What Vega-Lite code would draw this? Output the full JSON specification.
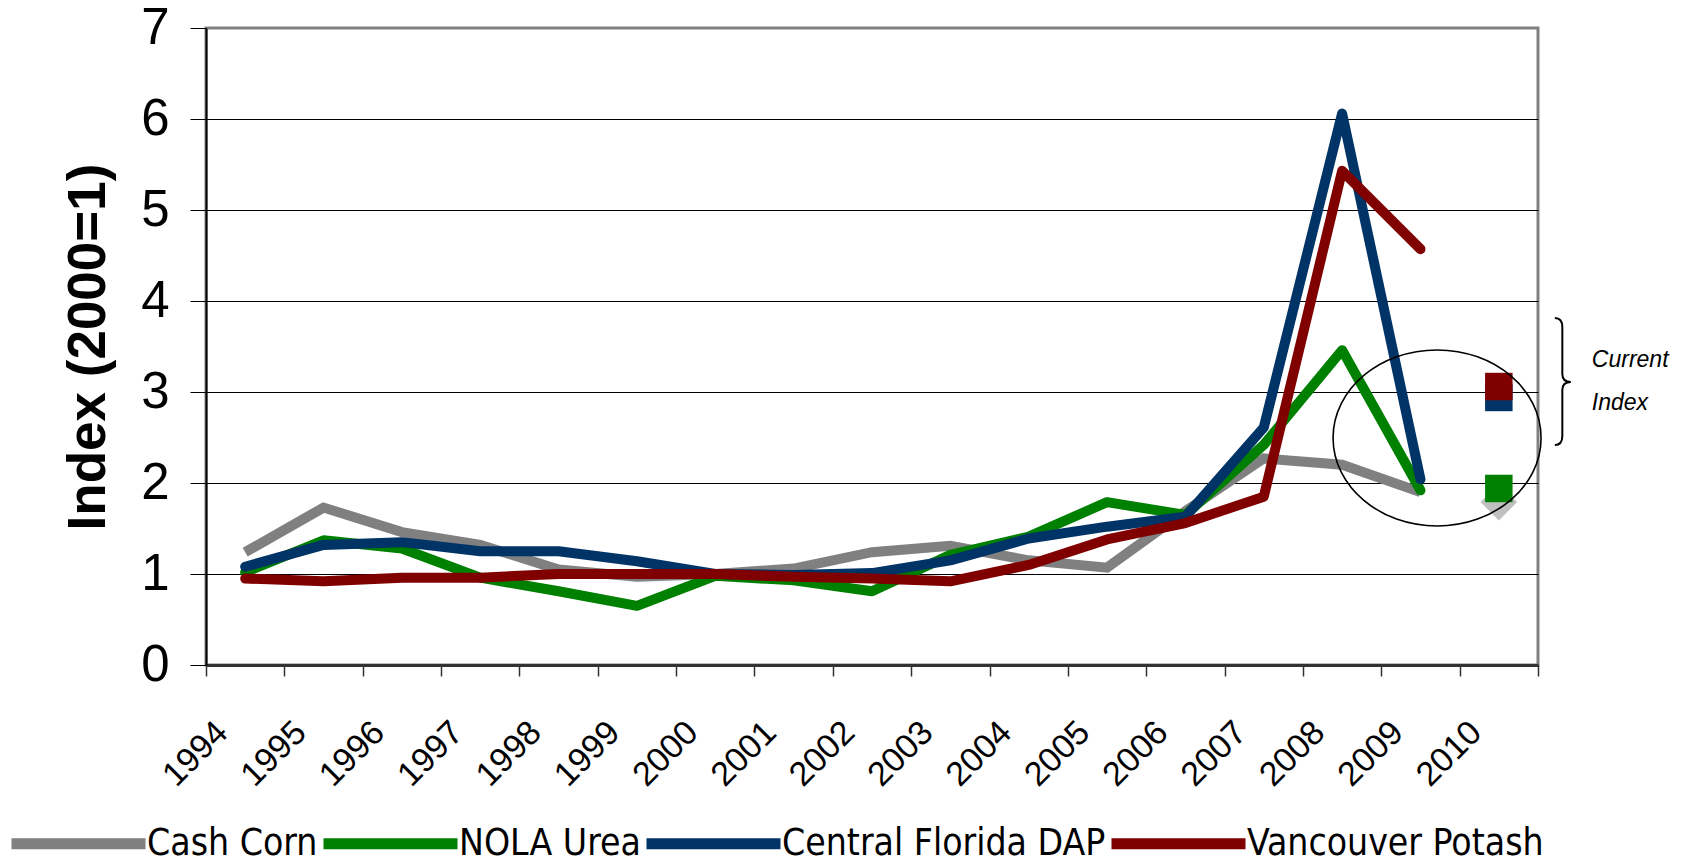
{
  "$schema": "https://vega.github.io/schema/vega-lite/v6.json",
  "width": 1332,
  "height": 637,
  "autosize": {"type": "none"},
  "padding": {"left": 206, "top": 28, "right": 150, "bottom": 197},
  "background": "white",
  "config": {
    "font": "Liberation Sans",
    "view": {"stroke": "#808080", "strokeWidth": 3}
  },
  "datasets": {
    "prices": [
      {"series": "Cash Corn", "year": "1994", "index": 1.24},
      {"series": "Cash Corn", "year": "1995", "index": 1.73},
      {"series": "Cash Corn", "year": "1996", "index": 1.46},
      {"series": "Cash Corn", "year": "1997", "index": 1.32},
      {"series": "Cash Corn", "year": "1998", "index": 1.05},
      {"series": "Cash Corn", "year": "1999", "index": 0.97},
      {"series": "Cash Corn", "year": "2000", "index": 1.0},
      {"series": "Cash Corn", "year": "2001", "index": 1.06},
      {"series": "Cash Corn", "year": "2002", "index": 1.24},
      {"series": "Cash Corn", "year": "2003", "index": 1.31},
      {"series": "Cash Corn", "year": "2004", "index": 1.15},
      {"series": "Cash Corn", "year": "2005", "index": 1.07},
      {"series": "Cash Corn", "year": "2006", "index": 1.69},
      {"series": "Cash Corn", "year": "2007", "index": 2.27},
      {"series": "Cash Corn", "year": "2008", "index": 2.2},
      {"series": "Cash Corn", "year": "2009", "index": 1.9},
      {"series": "NOLA Urea", "year": "1994", "index": 1.02},
      {"series": "NOLA Urea", "year": "1995", "index": 1.37},
      {"series": "NOLA Urea", "year": "1996", "index": 1.28},
      {"series": "NOLA Urea", "year": "1997", "index": 0.96},
      {"series": "NOLA Urea", "year": "1998", "index": 0.81},
      {"series": "NOLA Urea", "year": "1999", "index": 0.65},
      {"series": "NOLA Urea", "year": "2000", "index": 0.98},
      {"series": "NOLA Urea", "year": "2001", "index": 0.93},
      {"series": "NOLA Urea", "year": "2002", "index": 0.81},
      {"series": "NOLA Urea", "year": "2003", "index": 1.21},
      {"series": "NOLA Urea", "year": "2004", "index": 1.41},
      {"series": "NOLA Urea", "year": "2005", "index": 1.79},
      {"series": "NOLA Urea", "year": "2006", "index": 1.65},
      {"series": "NOLA Urea", "year": "2007", "index": 2.42},
      {"series": "NOLA Urea", "year": "2008", "index": 3.46},
      {"series": "NOLA Urea", "year": "2009", "index": 1.92},
      {"series": "Central Florida DAP", "year": "1994", "index": 1.08},
      {"series": "Central Florida DAP", "year": "1995", "index": 1.32},
      {"series": "Central Florida DAP", "year": "1996", "index": 1.35},
      {"series": "Central Florida DAP", "year": "1997", "index": 1.25},
      {"series": "Central Florida DAP", "year": "1998", "index": 1.25},
      {"series": "Central Florida DAP", "year": "1999", "index": 1.14},
      {"series": "Central Florida DAP", "year": "2000", "index": 1.0},
      {"series": "Central Florida DAP", "year": "2001", "index": 0.99},
      {"series": "Central Florida DAP", "year": "2002", "index": 1.01},
      {"series": "Central Florida DAP", "year": "2003", "index": 1.15},
      {"series": "Central Florida DAP", "year": "2004", "index": 1.39},
      {"series": "Central Florida DAP", "year": "2005", "index": 1.52},
      {"series": "Central Florida DAP", "year": "2006", "index": 1.63},
      {"series": "Central Florida DAP", "year": "2007", "index": 2.61},
      {"series": "Central Florida DAP", "year": "2008", "index": 6.06},
      {"series": "Central Florida DAP", "year": "2009", "index": 2.04},
      {"series": "Vancouver Potash", "year": "1994", "index": 0.95},
      {"series": "Vancouver Potash", "year": "1995", "index": 0.92},
      {"series": "Vancouver Potash", "year": "1996", "index": 0.96},
      {"series": "Vancouver Potash", "year": "1997", "index": 0.96},
      {"series": "Vancouver Potash", "year": "1998", "index": 1.0},
      {"series": "Vancouver Potash", "year": "1999", "index": 1.0},
      {"series": "Vancouver Potash", "year": "2000", "index": 1.0},
      {"series": "Vancouver Potash", "year": "2001", "index": 0.97},
      {"series": "Vancouver Potash", "year": "2002", "index": 0.95},
      {"series": "Vancouver Potash", "year": "2003", "index": 0.92},
      {"series": "Vancouver Potash", "year": "2004", "index": 1.1},
      {"series": "Vancouver Potash", "year": "2005", "index": 1.38},
      {"series": "Vancouver Potash", "year": "2006", "index": 1.56},
      {"series": "Vancouver Potash", "year": "2007", "index": 1.85},
      {"series": "Vancouver Potash", "year": "2008", "index": 5.43},
      {"series": "Vancouver Potash", "year": "2009", "index": 4.57}
    ],
    "current": [
      {"series": "Cash Corn", "year": "2010", "index": 1.79},
      {"series": "NOLA Urea", "year": "2010", "index": 1.94},
      {"series": "Central Florida DAP", "year": "2010", "index": 2.94},
      {"series": "Vancouver Potash", "year": "2010", "index": 3.06}
    ],
    "ellipse": [{"year": "2009", "index": 2.495}],
    "brace": [{"year": "2010", "index": 3.11}],
    "notes": [
      {"year": "2010", "index": 3.28, "label": "Current"},
      {"year": "2010", "index": 2.8, "label": "Index"}
    ]
  },
  "layer": [
    {
      "data": {"name": "prices"},
      "transform": [{"filter": "datum.series === 'Cash Corn'"}],
      "mark": {"type": "line", "strokeWidth": 10, "strokeCap": "butt", "strokeJoin": "miter"},
      "encoding": {
        "x": {
          "field": "year", "type": "ordinal", "bandPosition": 0.5,
          "scale": {"type": "band", "paddingInner": 0, "paddingOuter": 0,
            "domain": ["1994","1995","1996","1997","1998","1999","2000","2001","2002","2003","2004","2005","2006","2007","2008","2009","2010"]},
          "axis": {
            "title": null, "tickBand": "extent", "grid": false,
            "labelAngle": -45, "labelAlign": "right", "labelBaseline": "middle",
            "labelFontSize": 34, "labelColor": "black", "labelFont": "Liberation Sans",
            "labelPadding": 51, "labelOffset": -23, "labelOverlap": false,
            "tickSize": 11, "tickColor": "#333333", "tickWidth": 1.5,
            "domainColor": "#333333", "domainWidth": 3
          }
        },
        "y": {
          "field": "index", "type": "quantitative",
          "scale": {"domain": [0, 7], "nice": false},
          "axis": {
            "title": "Index (2000=1)", "titleFontSize": 53, "titleFontWeight": "bold",
            "titleColor": "black", "titlePadding": 25, "titleFont": "Liberation Sans",
            "values": [0, 1, 2, 3, 4, 5, 6, 7], "format": "d",
            "labelFontSize": 51, "labelColor": "black", "labelPadding": 21, "labelFont": "Liberation Sans",
            "tickSize": 16, "tickColor": "black", "tickWidth": 1,
            "domainColor": "black", "domainWidth": 2,
            "grid": true,
            "gridColor": {"condition": {"test": "datum.value == 7", "value": "#808080"}, "value": "black"},
            "gridWidth": 1
          }
        },
        "color": {
          "field": "series", "type": "nominal",
          "scale": {
            "domain": ["Cash Corn", "NOLA Urea", "Central Florida DAP", "Vancouver Potash"],
            "range": ["#808080", "#008000", "#003366", "#800000"]
          },
          "legend": {
            "title": null, "orient": "none", "legendX": -200, "legendY": 743,
            "direction": "horizontal", "padding": 0,
            "symbolType": "stroke", "symbolSize": 17956, "symbolStrokeWidth": 11,
            "labelFontSize": 37, "labelColor": "black", "labelLimit": 0,
            "labelFont": "DejaVu Sans Condensed, Liberation Sans",
            "labelOffset": -4, "columnPadding": -20
          }
        }
      }
    },
    {
      "data": {"name": "prices"},
      "transform": [{"filter": "datum.series !== 'Cash Corn'"}],
      "mark": {"type": "line", "strokeWidth": 10, "strokeCap": "round", "strokeJoin": "round"},
      "encoding": {
        "x": {"field": "year", "type": "ordinal", "bandPosition": 0.5},
        "y": {"field": "index", "type": "quantitative"},
        "color": {"field": "series", "type": "nominal"}
      }
    },
    {
      "data": {"name": "current"},
      "transform": [{"filter": "datum.series === 'Cash Corn'"}],
      "mark": {"type": "point", "shape": "diamond", "filled": true, "color": "#c0c0c0", "opacity": 1, "size": 1340},
      "encoding": {
        "x": {"field": "year", "type": "ordinal", "bandPosition": 0.5},
        "y": {"field": "index", "type": "quantitative"}
      }
    },
    {
      "data": {"name": "current"},
      "transform": [{"filter": "datum.series !== 'Cash Corn'"}],
      "mark": {"type": "point", "shape": "square", "filled": true, "opacity": 1, "size": 756, "strokeWidth": 0},
      "encoding": {
        "x": {"field": "year", "type": "ordinal", "bandPosition": 0.5},
        "y": {"field": "index", "type": "quantitative"},
        "fill": {
          "field": "series", "type": "nominal",
          "scale": {
            "domain": ["NOLA Urea", "Central Florida DAP", "Vancouver Potash"],
            "range": ["#008000", "#003366", "#800000"]
          },
          "legend": null
        }
      }
    },
    {
      "data": {"name": "ellipse"},
      "mark": {
        "type": "point", "filled": false, "opacity": 1, "stroke": "black", "strokeWidth": 1.6, "size": 40000,
        "shape": "M -0.874 0 A 1.04 0.88 0 1 0 1.206 0 A 1.04 0.88 0 1 0 -0.874 0 Z"
      },
      "encoding": {
        "x": {"field": "year", "type": "ordinal", "bandPosition": 0.5},
        "y": {"field": "index", "type": "quantitative"}
      }
    },
    {
      "data": {"name": "brace"},
      "mark": {
        "type": "point", "filled": false, "opacity": 1, "stroke": "black", "strokeWidth": 2, "size": 40000,
        "shape": "M 0.56 -0.64 C 0.62 -0.64 0.635 -0.6 0.635 -0.55 L 0.635 -0.08 C 0.635 -0.03 0.66 0 0.72 0 C 0.66 0 0.635 0.03 0.635 0.08 L 0.635 0.54 C 0.635 0.59 0.62 0.63 0.56 0.63"
      },
      "encoding": {
        "x": {"field": "year", "type": "ordinal", "bandPosition": 0.5},
        "y": {"field": "index", "type": "quantitative"}
      }
    },
    {
      "data": {"name": "notes"},
      "mark": {"type": "text", "align": "left", "baseline": "alphabetic", "dx": 93, "fontSize": 23, "fontStyle": "italic", "color": "black", "font": "Liberation Sans"},
      "encoding": {
        "x": {"field": "year", "type": "ordinal", "bandPosition": 0.5},
        "y": {"field": "index", "type": "quantitative"},
        "text": {"field": "label"}
      }
    }
  ]
}
